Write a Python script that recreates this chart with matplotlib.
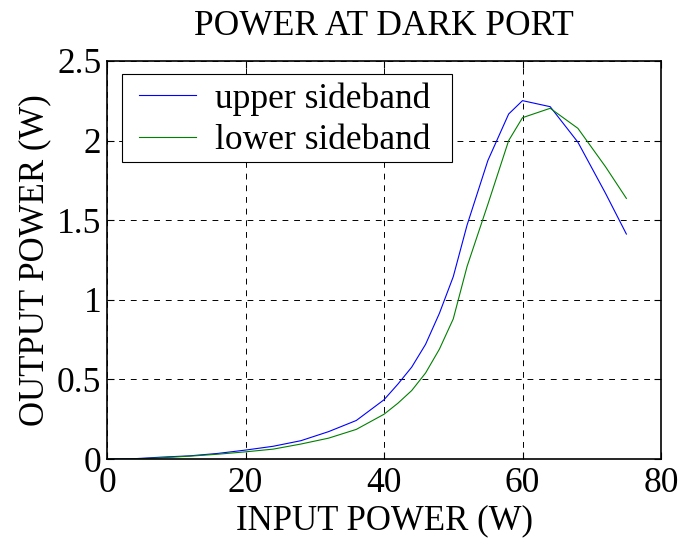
import matplotlib
matplotlib.use("Agg")
import matplotlib.pyplot as plt
from matplotlib.ticker import FuncFormatter
from matplotlib.patches import Rectangle

input_power = [0, 4, 8, 12, 16, 20, 24, 28, 32, 36, 40, 42, 44, 46, 48, 50, 52, 55, 58, 60, 64, 68, 72, 75]
upper = [0.0, 0.002, 0.012, 0.02, 0.035, 0.056, 0.08, 0.115, 0.172, 0.242, 0.372, 0.47, 0.577,
         0.72, 0.915, 1.145, 1.47, 1.875, 2.167, 2.251, 2.213, 1.99, 1.668, 1.413]
lower = [0.0, 0.0, 0.008, 0.018, 0.03, 0.045, 0.062, 0.094, 0.131, 0.186, 0.281, 0.35, 0.43,
         0.54, 0.69, 0.88, 1.21, 1.6, 2.0, 2.144, 2.203, 2.077, 1.835, 1.637]
xticks = [0, 20, 40, 60, 80]
yticks = [0, 0.5, 1, 1.5, 2, 2.5]

plt.rcParams['font.family'] = ['Liberation Serif', 'DejaVu Serif']

W, H = 679, 539
fig = plt.figure(figsize=(W/100, H/100), dpi=100)
ax = fig.add_axes([107/W, 1 - 459/H, (661-107)/W, (459-61)/H])

ax.plot(input_power, upper, color='#0000ff', lw=0.8, label='upper sideband')
ax.plot(input_power, lower, color='#008000', lw=0.8, label='lower sideband')

ax.set_xlim(0, 80)
ax.set_ylim(0, 2.5)
ax.set_xticks(xticks)
ax.set_yticks(yticks)
ax.yaxis.set_major_formatter(FuncFormatter(lambda v, p: f"{v:g}"))
ax.tick_params(direction='in', top=True, right=True, labelsize=25.5, length=5, width=0.8)
ax.tick_params(axis='x', pad=6)
ax.tick_params(axis='y', pad=4)
ax.grid(True, color='black', linestyle=(0, (6, 6)), linewidth=0.7)
for s in ax.spines.values():
    s.set_linewidth(1.2)

ax.set_title('POWER AT DARK PORT', fontsize=25.5, pad=18.5)
ax.set_xlabel('INPUT POWER (W)', fontsize=25, labelpad=3)
ax.set_ylabel('OUTPUT POWER (W)', fontsize=25, labelpad=4)

# legend frame drawn as a separate box
frame = Rectangle((121.7/W, 1 - 161.7/H), 330/W, 87.7/H, transform=fig.transFigure,
                  facecolor='white', edgecolor='black', linewidth=0.8, zorder=4.5)
ax.add_patch(frame)
leg = ax.legend(loc='upper left', fontsize=25.5, frameon=False,
                handlelength=1.6, borderpad=0, labelspacing=0.25,
                handletextpad=0.55, borderaxespad=0,
                bbox_to_anchor=(139/W, 1 - 82/H), bbox_transform=fig.transFigure)
leg.set_zorder(5)

fig.savefig('out.png', dpi=100)
